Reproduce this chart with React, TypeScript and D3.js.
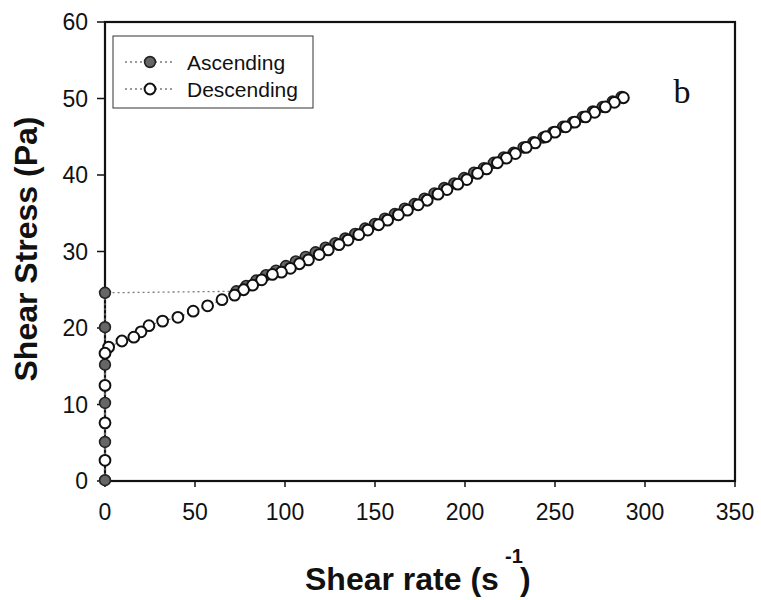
import React from "react";
import * as d3 from "d3";

// ---- Data ----
const ascX = [0, 0, 0, 0, 0, 0, 73, 78.5, 84, 89.5, 95, 100.5, 106, 111.5, 117, 122.5, 128, 133.5, 139, 144.5, 150, 155.5, 161, 166.5, 172, 177.5, 183, 188.5, 194, 199.5, 205, 210.5, 216, 221.5, 227, 232.5, 238, 243.5, 249, 254.5, 260, 265.5, 271, 276.5, 282, 287];
const ascY = [0.1, 5.1, 10.2, 15.2, 20.1, 24.6, 24.8, 25.5, 26.2, 26.9, 27.5, 28.1, 28.7, 29.3, 29.9, 30.5, 31.1, 31.7, 32.3, 33.0, 33.6, 34.3, 34.9, 35.6, 36.2, 36.9, 37.6, 38.3, 38.9, 39.6, 40.3, 40.9, 41.6, 42.3, 42.9, 43.6, 44.3, 44.9, 45.6, 46.3, 46.9, 47.6, 48.3, 48.9, 49.6, 50.2];

const descX = [288, 283, 278, 272, 267, 261, 256, 250, 245, 239, 234, 228, 223, 218, 212, 207, 201, 196, 190, 185, 179, 174, 168, 163, 157, 152, 146, 141, 135, 130, 124, 119, 113, 108, 103, 98, 93, 87, 82, 77, 72, 65, 57, 49, 40.5, 32, 24.4, 20, 16, 9.4, 2, 0, 0, 0, 0];
const descY = [50.1, 49.5, 48.9, 48.2, 47.6, 46.9, 46.3, 45.6, 45.0, 44.2, 43.6, 42.8, 42.2, 41.6, 40.8, 40.2, 39.4, 38.8, 38.1, 37.5, 36.7, 36.1, 35.4, 34.8, 34.1, 33.5, 32.8, 32.2, 31.5, 30.9, 30.2, 29.6, 28.9, 28.4, 27.8, 27.3, 27.0, 26.3, 25.6, 25.0, 24.3, 23.7, 22.9, 22.2, 21.4, 20.9, 20.3, 19.5, 18.8, 18.3, 17.5, 16.7, 12.5, 7.6, 2.7];

const xTicks = [0, 50, 100, 150, 200, 250, 300, 350];
const yTicks = [0, 10, 20, 30, 40, 50, 60];
const seriesNames = ["Ascending", "Descending"];

const FONT = "'Liberation Sans', Arial, Helvetica, sans-serif";

export default function App() {
  const x = d3.scaleLinear().domain([0, 350]).range([105, 735]);
  const y = d3.scaleLinear().domain([0, 60]).range([481, 22]);

  const asc = ascX.map((v, i) => [v, ascY[i]] as [number, number]);
  const desc = descX.map((v, i) => [v, descY[i]] as [number, number]);
  const line = d3
    .line<[number, number]>()
    .x((d) => x(d[0]))
    .y((d) => y(d[1]));

  const r = 5.4;
  const filled = { fill: "#666666", stroke: "#222", strokeWidth: 1.6 };
  const open = { fill: "#ffffff", stroke: "#111", strokeWidth: 2 };
  const dotted = { fill: "none", stroke: "#7a7a7a", strokeWidth: 1.3, strokeDasharray: "2,3" };

  return (
    <svg width={761} height={600} style={{ position: "absolute", left: 0, top: 0, background: "#fff" }}>
      <rect x={0} y={0} width={761} height={600} fill="#fff" />
      {/* frame */}
      <rect x={x(0)} y={y(60)} width={x(350) - x(0)} height={y(0) - y(60)} fill="none" stroke="#111" strokeWidth={2.2} />
      {/* x ticks */}
      {xTicks.map((t) => (
        <g key={"xt" + t}>
          <line x1={x(t)} x2={x(t)} y1={y(0)} y2={y(0) + 6} stroke="#111" strokeWidth={1.5} />
          <text x={x(t)} y={520} textAnchor="middle" fontFamily={FONT} fontSize={23} fill="#111">
            {t}
          </text>
        </g>
      ))}
      {/* y ticks */}
      {yTicks.map((t) => (
        <g key={"yt" + t}>
          <line x1={x(0) - 8} x2={x(0)} y1={y(t)} y2={y(t)} stroke="#111" strokeWidth={1.5} />
          <text x={88} y={y(t)} dy="0.36em" textAnchor="end" fontFamily={FONT} fontSize={23} fill="#111">
            {t}
          </text>
        </g>
      ))}
      {/* series */}
      <path d={line(asc) || ""} {...dotted} />
      <path d={line(desc) || ""} {...dotted} />
      {asc.map((d, i) => (
        <circle key={"a" + i} cx={x(d[0])} cy={y(d[1])} r={r} {...filled} />
      ))}
      {desc.map((d, i) => (
        <circle key={"d" + i} cx={x(d[0])} cy={y(d[1])} r={r} {...open} />
      ))}
      {/* legend */}
      <rect x={113} y={36} width={200} height={72} fill="#fff" stroke="#333" strokeWidth={1} />
      {seriesNames.map((name, i) => {
        const cy = 62 + i * 27;
        return (
          <g key={name}>
            <line x1={125} x2={175} y1={cy} y2={cy} {...dotted} />
            <circle cx={150} cy={cy} r={r} {...(i === 0 ? filled : open)} />
            <text x={187} y={cy} dy="0.36em" fontFamily={FONT} fontSize={21} fill="#111">
              {name}
            </text>
          </g>
        );
      })}
      {/* panel label */}
      <text x={682} y={103} textAnchor="middle" fontFamily="'Liberation Serif', 'Times New Roman', serif" fontSize={34} fill="#111">
        b
      </text>
      {/* axis titles */}
      <text
        transform="translate(37,249) rotate(-90)"
        textAnchor="middle"
        fontFamily={FONT}
        fontWeight="bold"
        fontSize={32}
        fill="#111"
      >
        Shear Stress (Pa)
      </text>
      <text x={305} y={590} fontFamily={FONT} fontWeight="bold" fontSize={32} fill="#111">
        Shear rate (s
      </text>
      <text x={505} y={563} fontFamily={FONT} fontWeight="bold" fontSize={20} fill="#111">
        -1
      </text>
      <text x={520} y={590} fontFamily={FONT} fontWeight="bold" fontSize={32} fill="#111">
        )
      </text>
    </svg>
  );
}
